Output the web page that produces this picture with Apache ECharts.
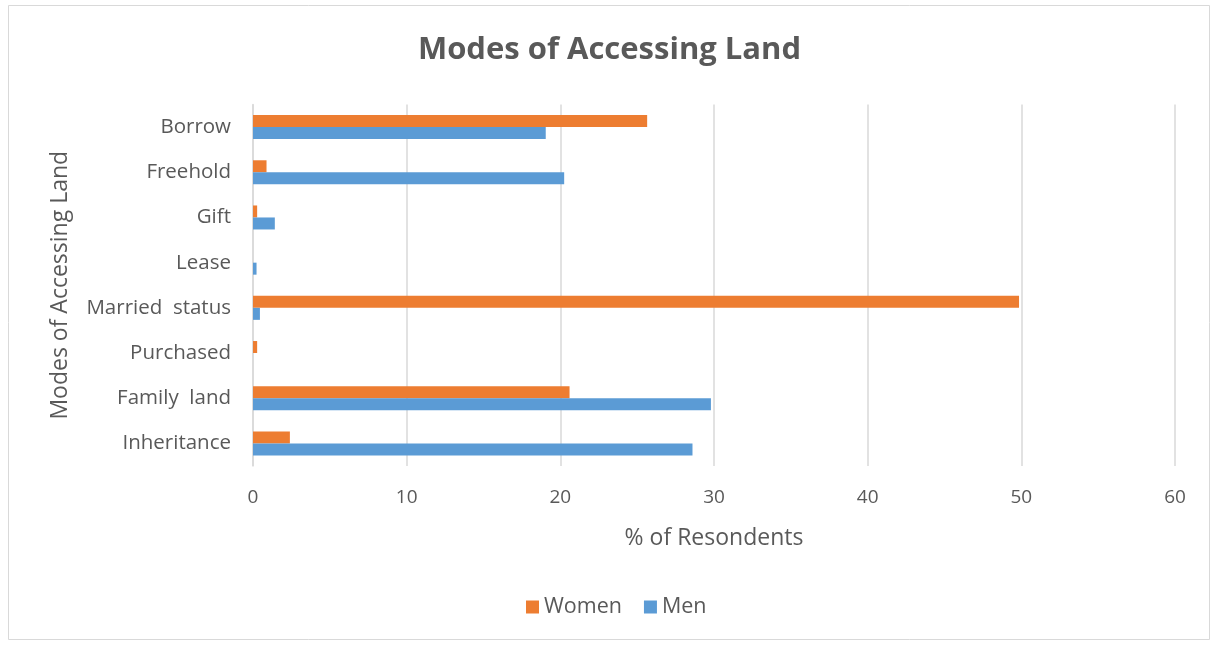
<!DOCTYPE html>
<html><head><meta charset="utf-8">
<script src="https://cdn.jsdelivr.net/npm/echarts@6/dist/echarts.min.js"></script>
<style>html,body{margin:0;padding:0;background:#fff}#c{width:1219px;height:645px}</style>
</head><body><div id="c"></div>
<script>
const categories = ['Inheritance', 'Family  land', 'Purchased', 'Married  status', 'Lease', 'Gift', 'Freehold', 'Borrow'];
const women = [2.4, 20.6, 0.27, 49.85, 0, 0.27, 0.88, 25.65];
const men = [28.6, 29.8, 0, 0.45, 0.23, 1.42, 20.25, 19.05];
const xTicks = [0, 10, 20, 30, 40, 50, 60];

const FONT = '"Open Sans", "Liberation Sans", sans-serif';
const TXT = '#595959';
const chart = echarts.init(document.getElementById('c'), null, {renderer: 'canvas'});
chart.setOption({
  animation: false,
  backgroundColor: '#fff',
  graphic: [{type: 'rect', shape: {x: 8.5, y: 5.5, width: 1201, height: 634}, style: {fill: 'none', stroke: '#d9d9d9', lineWidth: 1}, silent: true}],
  title: {text: 'Modes of Accessing Land', left: 'center', top: 30,
    textStyle: {fontFamily: FONT, fontSize: 31, fontWeight: 'bold', color: TXT}},
  legend: {data: ['Women', 'Men'], bottom: 22, left: 521, itemWidth: 13, itemHeight: 13, itemGap: 22,
    icon: 'rect', textStyle: {fontFamily: FONT, fontSize: 21.5, color: TXT}},
  grid: {left: 253, right: 44, top: 104.5, bottom: 179, containLabel: false},
  xAxis: {type: 'value', min: xTicks[0], max: xTicks[xTicks.length - 1], interval: 10,
    name: '% of Resondents', nameLocation: 'middle', nameGap: 61,
    nameTextStyle: {fontFamily: FONT, fontSize: 23, color: TXT},
    axisLabel: {fontFamily: FONT, fontSize: 19, color: TXT, margin: 22},
    axisLine: {show: false}, axisTick: {show: false},
    splitLine: {show: true, lineStyle: {color: '#d9d9d9', width: 1.5}}},
  yAxis: {type: 'category', data: categories,
    name: 'Modes of Accessing Land', nameLocation: 'middle', nameGap: 181, nameRotate: 90,
    nameTextStyle: {fontFamily: FONT, fontSize: 23, color: TXT},
    axisLabel: {fontFamily: FONT, fontSize: 20.5, color: TXT, margin: 22},
    axisLine: {show: true, lineStyle: {color: '#d9d9d9', width: 1.5}}, axisTick: {show: false}},
  series: [
    {name: 'Women', type: 'bar', data: women, barWidth: 12, barGap: '0%', itemStyle: {color: '#ED7D31'}},
    {name: 'Men', type: 'bar', data: men, barWidth: 12, barGap: '0%', itemStyle: {color: '#5B9BD5'}}
  ]
});
</script></body></html>
